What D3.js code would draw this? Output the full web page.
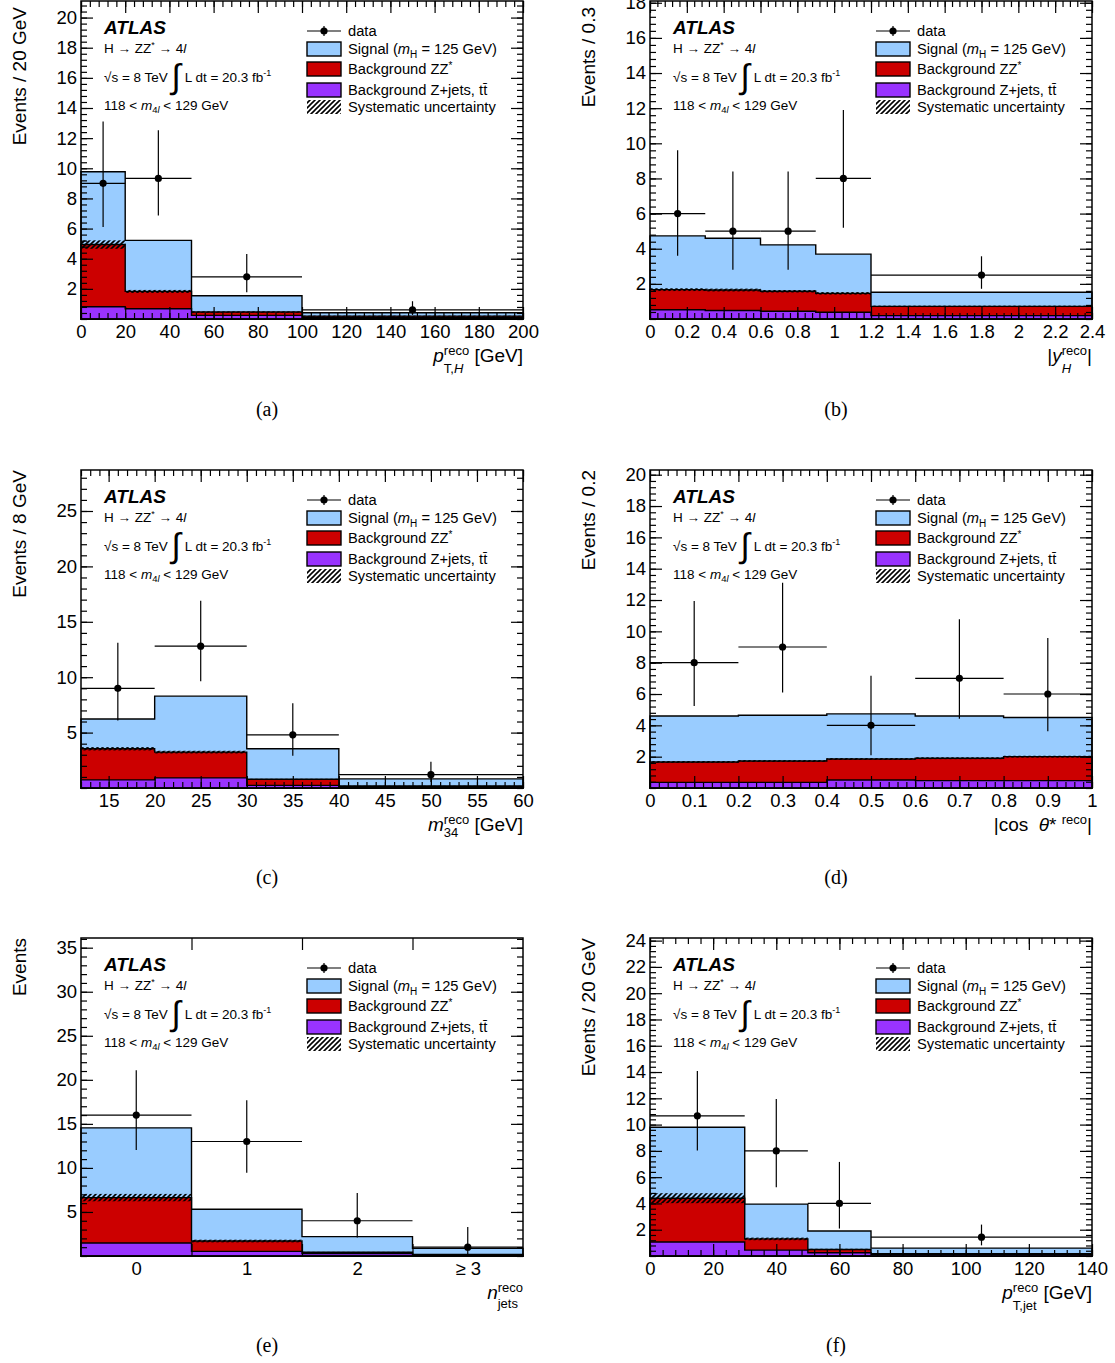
<!DOCTYPE html>
<html><head><meta charset="utf-8">
<script src="https://cdn.jsdelivr.net/npm/d3@7"></script>
<style>
body{margin:0;background:#fff}
svg{display:block;font-family:"Liberation Sans",Arial,Helvetica,sans-serif}
</style>
</head><body>
<svg id="c" width="1115" height="1363"></svg>
<script>
// ---------------- DATA ----------------
// (a) pT,H
const ptH_edges   = [0, 20, 50, 100, 200];
const ptH_zjets   = [0.81, 0.68, 0.24, 0.10];
const ptH_zz      = [4.13, 1.15, 0.22, 0.09];
const ptH_signal  = [4.83, 3.39, 1.08, 0.22];
const ptH_syst    = [0.28, 0.10, 0.05, 0.03];
const ptH_data    = [9.0, 9.33, 2.8, 0.6];
const ptH_dataLo  = [6.1, 6.87, 1.77, 0.27];
const ptH_dataHi  = [13.1, 12.53, 4.31, 1.18];
const ptH_xTicks  = [0, 20, 40, 60, 80, 100, 120, 140, 160, 180, 200];
const ptH_yTicks  = [2, 4, 6, 8, 10, 12, 14, 16, 18, 20];

// (b) |yH|
const yH_edges    = [0, 0.3, 0.6, 0.9, 1.2, 2.4];
const yH_zjets    = [0.53, 0.48, 0.44, 0.38, 0.19];
const yH_zz       = [1.14, 1.17, 1.14, 1.08, 0.53];
const yH_signal   = [3.06, 2.95, 2.64, 2.23, 0.80];
const yH_syst     = [0.08, 0.08, 0.07, 0.07, 0.04];
const yH_data     = [6, 5, 5, 8, 2.5];
const yH_dataLo   = [3.6, 2.8, 2.8, 5.2, 1.72];
const yH_dataHi   = [9.6, 8.4, 8.4, 11.9, 3.57];
const yH_xTicks   = [0, 0.2, 0.4, 0.6, 0.8, 1, 1.2, 1.4, 1.6, 1.8, 2, 2.2, 2.4];
const yH_yTicks   = [2, 4, 6, 8, 10, 12, 14, 16, 18];

// (c) m34
const m34_edges   = [12, 20, 30, 40, 60];
const m34_zjets   = [0.73, 0.91, 0.24, 0.12];
const m34_zz      = [2.81, 2.33, 0.55, 0.06];
const m34_signal  = [2.69, 5.05, 2.75, 0.64];
const m34_syst    = [0.15, 0.12, 0.04, 0.02];
const m34_data    = [9.0, 12.8, 4.8, 1.2];
const m34_dataLo  = [6.1, 9.63, 2.9, 0.55];
const m34_dataHi  = [13.1, 16.9, 7.66, 2.37];
const m34_xTicks  = [15, 20, 25, 30, 35, 40, 45, 50, 55, 60];
const m34_yTicks  = [5, 10, 15, 20, 25];

// (d) |cos theta*|
const cth_edges   = [0, 0.2, 0.4, 0.6, 0.8, 1.0];
const cth_zjets   = [0.36, 0.36, 0.51, 0.47, 0.47];
const cth_zz      = [1.30, 1.36, 1.34, 1.43, 1.53];
const cth_signal  = [2.94, 2.92, 2.88, 2.70, 2.50];
const cth_syst    = [0.06, 0.06, 0.06, 0.06, 0.06];
const cth_data    = [8, 9, 4, 7, 6];
const cth_dataLo  = [5.23, 6.1, 2.09, 4.42, 3.62];
const cth_dataHi  = [11.94, 13.1, 7.16, 10.77, 9.58];
const cth_xTicks  = [0, 0.1, 0.2, 0.3, 0.4, 0.5, 0.6, 0.7, 0.8, 0.9, 1];
const cth_yTicks  = [2, 4, 6, 8, 10, 12, 14, 16, 18, 20];

// (e) njets
const nj_edges    = [-0.5, 0.5, 1.5, 2.5, 3.5];
const nj_zjets    = [1.48, 0.53, 0.27, 0.11];
const nj_zz       = [5.15, 1.17, 0.15, 0.08];
const nj_signal   = [7.92, 3.60, 1.78, 0.68];
const nj_syst     = [0.42, 0.15, 0.05, 0.02];
const nj_data     = [16, 13, 4, 1];
const nj_dataLo   = [12.04, 9.44, 2.09, 0.17];
const nj_dataHi   = [21.1, 17.67, 7.16, 3.3];
const nj_xLabels  = ["0", "1", "2", "\u2265 3"];
const nj_xTicks   = [0.5, 1.5, 2.5];
const nj_yTicks   = [5, 10, 15, 20, 25, 30, 35];

// (f) pT,jet
const ptj_edges   = [0, 30, 50, 70, 140];
const ptj_zjets   = [1.07, 0.45, 0.25, 0.12];
const ptj_zz      = [3.33, 0.85, 0.25, 0.06];
const ptj_signal  = [5.40, 2.65, 1.40, 0.42];
const ptj_syst    = [0.38, 0.10, 0.05, 0.02];
const ptj_data    = [10.67, 8, 4, 1.43];
const ptj_dataLo  = [8.03, 5.23, 2.09, 0.81];
const ptj_dataHi  = [14.07, 11.94, 7.16, 2.39];
const ptj_xTicks  = [0, 20, 40, 60, 80, 100, 120, 140];
const ptj_yTicks  = [2, 4, 6, 8, 10, 12, 14, 16, 18, 20, 22, 24];

// ---------------- STYLE / LAYOUT ----------------
const COLORS = {signal: "#99ccff", zz: "#cc0000", zjets: "#9933ff"};
const colLeft = [81, 650], rowTop = [1, 470, 938], PW = 442, PH = 318;

const sup = (t) => ({t, sz: 13, dy: -7});
const panels = [
  {edges: ptH_edges, zjets: ptH_zjets, zz: ptH_zz, signal: ptH_signal, syst: ptH_syst,
   data: ptH_data, lo: ptH_dataLo, hi: ptH_dataHi, xTicks: ptH_xTicks, yTicks: ptH_yTicks,
   xDomain: [0, 200], yMax: 21.1, xMinor: 4, yMinor: 0.4, col: 0, row: 0,
   yTitle: "Events / 20 GeV", caption: "(a)",
   xTitle: [{t: "p", it: 1}, {stack: [sup("reco"), {runs: [{t: "T,"}, {t: "H", it: 1}], sz: 13, dy: 11}]}, {t: " [GeV]"}]},
  {edges: yH_edges, zjets: yH_zjets, zz: yH_zz, signal: yH_signal, syst: yH_syst,
   data: yH_data, lo: yH_dataLo, hi: yH_dataHi, xTicks: yH_xTicks, yTicks: yH_yTicks,
   xDomain: [0, 2.4], yMax: 18.1, xMinor: 0.04, yMinor: 0.4, col: 1, row: 0,
   yTitle: "Events / 0.3", caption: "(b)",
   xTitle: [{t: "|"}, {t: "y", it: 1}, {stack: [sup("reco"), {t: "H", it: 1, sz: 13, dy: 11}]}, {t: "|"}]},
  {edges: m34_edges, zjets: m34_zjets, zz: m34_zz, signal: m34_signal, syst: m34_syst,
   data: m34_data, lo: m34_dataLo, hi: m34_dataHi, xTicks: m34_xTicks, yTicks: m34_yTicks,
   xDomain: [12, 60], yMax: 28.7, xMinor: 1, yMinor: 1, col: 0, row: 1,
   yTitle: "Events / 8 GeV", caption: "(c)",
   xTitle: [{t: "m", it: 1}, {stack: [sup("reco"), {t: "34", sz: 13, dy: 6}]}, {t: " [GeV]"}]},
  {edges: cth_edges, zjets: cth_zjets, zz: cth_zz, signal: cth_signal, syst: cth_syst,
   data: cth_data, lo: cth_dataLo, hi: cth_dataHi, xTicks: cth_xTicks, yTicks: cth_yTicks,
   xDomain: [0, 1], yMax: 20.3, xMinor: 0.02, yMinor: 0.4, col: 1, row: 1,
   yTitle: "Events / 0.2", caption: "(d)",
   xTitle: [{t: "|cos  "}, {t: "\u03b8", it: 1}, {t: "* "}, sup("reco"), {t: "|"}]},
  {edges: nj_edges, zjets: nj_zjets, zz: nj_zz, signal: nj_signal, syst: nj_syst,
   data: nj_data, lo: nj_dataLo, hi: nj_dataHi, xTicks: nj_xTicks, yTicks: nj_yTicks,
   xLabels: nj_xLabels, xLabelPos: [0, 1, 2, 3],
   xDomain: [-0.5, 3.5], yMax: 36.1, xMinor: null, yMinor: 1, col: 0, row: 2,
   yTitle: "Events", caption: "(e)",
   xTitle: [{t: "n", it: 1}, {stack: [sup("reco"), {t: "jets", sz: 13, dy: 9}]}]},
  {edges: ptj_edges, zjets: ptj_zjets, zz: ptj_zz, signal: ptj_signal, syst: ptj_syst,
   data: ptj_data, lo: ptj_dataLo, hi: ptj_dataHi, xTicks: ptj_xTicks, yTicks: ptj_yTicks,
   xDomain: [0, 140], yMax: 24.2, xMinor: 4, yMinor: 0.4, col: 1, row: 2,
   yTitle: "Events / 20 GeV", caption: "(f)",
   xTitle: [{t: "p", it: 1}, {stack: [sup("reco"), {t: "T,jet", sz: 13, dy: 11}]}, {t: " [GeV]"}]}
];

// ---------------- DRAWING ----------------
const svg = d3.select("#c");
const defs = svg.append("defs");
const pat = defs.append("pattern").attr("id", "hatch").attr("patternUnits", "userSpaceOnUse")
  .attr("width", 5).attr("height", 5);
pat.append("path").attr("d", "M-1,1 l2,-2 M0,5 l5,-5 M4,6 l2,-2")
  .attr("stroke", "#000").attr("stroke-width", 1.6);

function rich(g, x, y, parts, opts = {}) {
  const grp = g.append("g");
  const base = opts.size || 14;
  let cx = 0;
  function seg(s, atX) {
    const t = grp.append("text").attr("x", atX + (s.dx || 0)).attr("y", s.dy || 0)
      .attr("font-size", s.sz || base).style("white-space", "pre").attr("fill", "#000");
    if (s.ff) t.attr("font-family", s.ff);
    if (s.b) t.attr("font-weight", "bold");
    if (s.runs) {
      s.runs.forEach(r => t.append("tspan").attr("font-style", r.it ? "italic" : null).text(r.t));
    } else {
      t.attr("font-style", s.it ? "italic" : null).text(s.t);
    }
    return t.node().getComputedTextLength() + (s.dx || 0);
  }
  parts.forEach(p => {
    if (p.stack) {
      let w = 0;
      p.stack.forEach(s => { w = Math.max(w, seg(s, cx)); });
      cx += w;
    } else cx += seg(p, cx);
  });
  const ox = opts.anchor === "end" ? x - cx : opts.anchor === "middle" ? x - cx / 2 : x;
  grp.attr("transform", `translate(${ox},${y})`);
  return grp;
}

function minorVals(domain, step) {
  const out = [];
  const i0 = Math.ceil(domain[0] / step - 1e-6), i1 = Math.floor(domain[1] / step + 1e-6);
  for (let i = i0; i <= i1; i++) out.push(+(i * step).toFixed(6));
  return out;
}

function drawPanel(p) {
  const L = colLeft[p.col], T = rowTop[p.row], R = L + PW, B = T + PH;
  const x = d3.scaleLinear().domain(p.xDomain).range([L, R]);
  const y = d3.scaleLinear().domain([0, p.yMax]).range([B, T]);
  const g = svg.append("g");
  const n = p.signal.length;
  const lvZj = p.zjets.slice();
  const lvZZ = p.zjets.map((v, i) => v + p.zz[i]);
  const lvTot = lvZZ.map((v, i) => v + p.signal[i]);

  const stepPath = (vals) => {
    let d = `M${x(p.edges[0])},${y(0)}`;
    vals.forEach((v, i) => { d += `L${x(p.edges[i])},${y(v)}L${x(p.edges[i + 1])},${y(v)}`; });
    return d + `L${x(p.edges[n])},${y(0)}Z`;
  };
  [[lvTot, COLORS.signal], [lvZZ, COLORS.zz], [lvZj, COLORS.zjets]].forEach(([v, c]) => {
    g.append("path").attr("d", stepPath(v)).attr("fill", c)
      .attr("stroke", "#000").attr("stroke-width", 1.4).attr("stroke-linejoin", "miter");
  });
  // systematic band on the background stack
  lvZZ.forEach((v, i) => {
    g.append("rect").attr("x", x(p.edges[i])).attr("width", x(p.edges[i + 1]) - x(p.edges[i]))
      .attr("y", y(v + p.syst[i])).attr("height", y(v - p.syst[i]) - y(v + p.syst[i]))
      .attr("fill", "url(#hatch)");
  });
  // data
  p.data.forEach((v, i) => {
    const cx = x((p.edges[i] + p.edges[i + 1]) / 2);
    g.append("line").attr("x1", x(p.edges[i])).attr("x2", x(p.edges[i + 1]))
      .attr("y1", y(v)).attr("y2", y(v)).attr("stroke", "#000").attr("stroke-width", 1.2);
    g.append("line").attr("x1", cx).attr("x2", cx)
      .attr("y1", y(p.lo[i])).attr("y2", y(Math.min(p.hi[i], p.yMax))).attr("stroke", "#000").attr("stroke-width", 1.2);
    g.append("circle").attr("cx", cx).attr("cy", y(v)).attr("r", 3.6).attr("fill", "#000");
  });

  // axes (ticks inward, mirrored)
  const ax = svg.append("g");
  const styleAxis = (sel) => {
    sel.select(".domain").remove();
    sel.selectAll("line").attr("stroke", "#000").attr("stroke-width", 1.2);
    sel.selectAll("text").attr("font-size", 18.5).attr("fill", "#000")
      .attr("font-family", '"Liberation Sans",Arial,sans-serif');
  };
  const addAxis = (gen, tx, ty) => ax.append("g").attr("transform", `translate(${tx},${ty})`).call(gen).call(styleAxis);

  if (p.xLabels) {
    addAxis(d3.axisBottom(x).tickValues(p.xLabelPos).tickSize(0).tickPadding(6)
      .tickFormat((d, i) => p.xLabels[i]), 0, B);
    addAxis(d3.axisBottom(x).tickValues(p.xTicks).tickSize(-12).tickFormat(""), 0, B);
  } else {
    addAxis(d3.axisBottom(x).tickValues(p.xTicks).tickSize(-12).tickPadding(6)
      .tickFormat(d3.format("~g")), 0, B);
  }
  addAxis(d3.axisTop(x).tickValues(p.xTicks).tickSize(-12).tickFormat(""), 0, T);
  if (p.xMinor) {
    const mv = minorVals(p.xDomain, p.xMinor);
    addAxis(d3.axisBottom(x).tickValues(mv).tickSize(-6).tickFormat(""), 0, B);
    addAxis(d3.axisTop(x).tickValues(mv).tickSize(-6).tickFormat(""), 0, T);
  }
  addAxis(d3.axisLeft(y).tickValues(p.yTicks).tickSize(-12).tickPadding(4)
    .tickFormat(d3.format("~g")), L, 0);
  addAxis(d3.axisRight(y).tickValues(p.yTicks).tickSize(-12).tickFormat(""), R, 0);
  const ym = minorVals([0, p.yMax], p.yMinor);
  addAxis(d3.axisLeft(y).tickValues(ym).tickSize(-6).tickFormat(""), L, 0);
  addAxis(d3.axisRight(y).tickValues(ym).tickSize(-6).tickFormat(""), R, 0);
  ax.append("rect").attr("x", L).attr("y", T).attr("width", PW).attr("height", PH)
    .attr("fill", "none").attr("stroke", "#000").attr("stroke-width", 1.5);

  // axis titles
  svg.append("text").attr("transform", `translate(${L - 55},${T + (p.row === 0 ? 6 : 0)}) rotate(-90)`)
    .attr("text-anchor", "end").attr("font-size", 19).text(p.yTitle);
  rich(svg, R, B + 43, p.xTitle, {anchor: "end", size: 19});

  // caption
  svg.append("text").attr("x", L + 186).attr("y", [416, 884, 1352][p.row])
    .attr("text-anchor", "middle").attr("font-size", 20)
    .attr("font-family", '"Liberation Serif","DejaVu Serif",serif').text(p.caption);

  // ATLAS block
  const tx = L + 23, tt = T;
  svg.append("text").attr("x", tx).attr("y", tt + 33).attr("font-size", 19)
    .attr("font-weight", "bold").attr("font-style", "italic").text("ATLAS");
  rich(svg, tx, tt + 52, [{t: "H \u2192 ZZ"}, {t: "*", sz: 9, dy: -5}, {t: " \u2192 4"}, {t: "l", it: 1}], {size: 13.5});
  rich(svg, tx, tt + 81, [{t: "\u221as = 8 TeV "}, {t: "\u222b", sz: 34, dy: 6}, {t: " L dt = 20.3 fb"}, {t: "-1", sz: 9, dy: -6}], {size: 13.5});
  rich(svg, tx, tt + 109, [{t: "118 < "}, {t: "m", it: 1}, {runs: [{t: "4"}, {t: "l", it: 1}], sz: 9.5, dy: 3}, {t: " < 129 GeV"}], {size: 13.5});

  // legend
  const bx = L + 226, bw = 34, tX = L + 267;
  const rowsY = [30, 48, 68, 89, 106].map(d => T + d);
  svg.append("line").attr("x1", bx).attr("x2", bx + bw).attr("y1", rowsY[0]).attr("y2", rowsY[0])
    .attr("stroke", "#000").attr("stroke-width", 1.2);
  svg.append("line").attr("x1", bx + bw / 2).attr("x2", bx + bw / 2).attr("y1", rowsY[0] - 5).attr("y2", rowsY[0] + 5)
    .attr("stroke", "#000").attr("stroke-width", 1.2);
  svg.append("circle").attr("cx", bx + bw / 2).attr("cy", rowsY[0]).attr("r", 3.6).attr("fill", "#000");
  [[COLORS.signal, 1], [COLORS.zz, 2], [COLORS.zjets, 3]].forEach(([c, k]) => {
    svg.append("rect").attr("x", bx).attr("y", rowsY[k] - 7).attr("width", bw).attr("height", 14)
      .attr("fill", c).attr("stroke", "#000").attr("stroke-width", 1.4);
  });
  svg.append("rect").attr("x", bx).attr("y", rowsY[4] - 7).attr("width", bw).attr("height", 14)
    .attr("fill", "url(#hatch)");
  const ly = (k) => rowsY[k] + 5;
  rich(svg, tX, ly(0), [{t: "data"}], {size: 14.7});
  rich(svg, tX, ly(1), [{t: "Signal ("}, {t: "m", it: 1}, {t: "H", sz: 10, dy: 4}, {t: " = 125 GeV)"}], {size: 14.7});
  rich(svg, tX, ly(2), [{t: "Background ZZ"}, {t: "*", sz: 10, dy: -5}], {size: 14.7});
  rich(svg, tX, ly(3), [{t: "Background Z+jets, t"}, {t: "t\u0304"}], {size: 14.7});
  rich(svg, tX, ly(4), [{t: "Systematic uncertainty"}], {size: 14.7});
}

panels.forEach(drawPanel);
</script>
</body></html>
